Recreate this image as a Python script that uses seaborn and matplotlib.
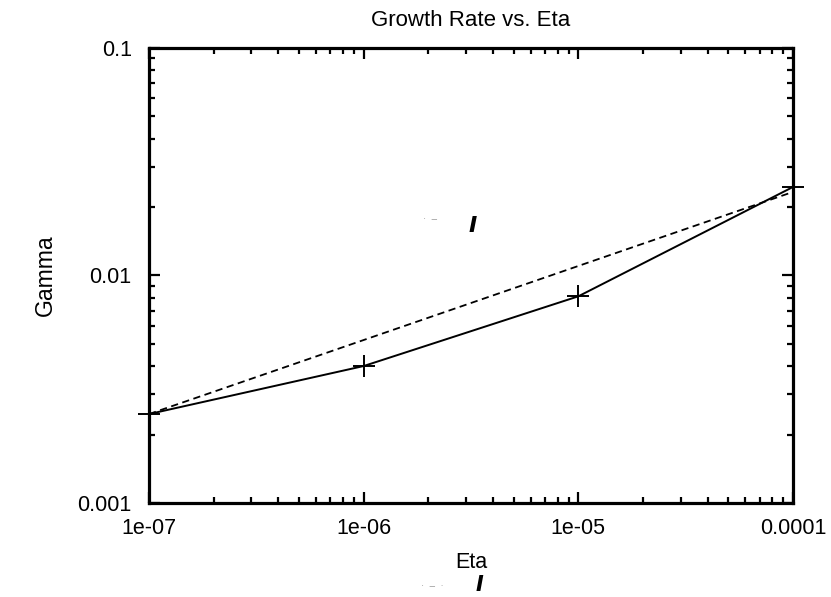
import matplotlib
matplotlib.use("Agg")
import matplotlib.pyplot as plt
import matplotlib.ticker as mticker
import seaborn as sns
import pandas as pd

eta = [1e-7, 1e-6, 1e-5, 1e-4]
gamma = [0.00246, 0.0040, 0.0081, 0.0245]
fit_eta = [1e-7, 1e-4]
fit_gamma = [0.00246, 0.0233]

x_ticks = [1e-7, 1e-6, 1e-5, 1e-4]
x_labels = ["1e-07", "1e-06", "1e-05", "0.0001"]
y_ticks = [0.001, 0.01, 0.1]
y_labels = ["0.001", "0.01", "0.1"]

sns.set_style("ticks")
plt.rcParams['font.family'] = ['Liberation Sans', 'DejaVu Sans']
for k in ["text.color", "axes.labelcolor", "xtick.color", "ytick.color", "axes.edgecolor"]:
    plt.rcParams[k] = "black"

fig = plt.figure(figsize=(8.31, 5.97), dpi=100)
ax = fig.add_axes([149/831, 1-503/597, (793-149)/831, (503-48)/597])

df = pd.DataFrame({"eta": eta, "gamma": gamma})
dff = pd.DataFrame({"eta": fit_eta, "gamma": fit_gamma})
sns.lineplot(data=df, x="eta", y="gamma", ax=ax, color="black", lw=1.4,
             marker="+", markersize=16, mew=1.4, mec="black", mfc="black",
             clip_on=False, zorder=5)
sns.lineplot(data=dff, x="eta", y="gamma", ax=ax, color="black", lw=1.3,
             linestyle=(0, (4, 2.5)), clip_on=False, zorder=4)

ax.set_xscale("log")
ax.set_yscale("log")
ax.set_xlim(1e-7, 1e-4)
ax.set_ylim(1e-3, 1e-1)
ax.set_xticks(x_ticks)
ax.set_xticklabels(x_labels)
ax.set_yticks(y_ticks)
ax.set_yticklabels(y_labels)
ax.xaxis.set_minor_locator(mticker.LogLocator(base=10, subs=range(2, 10)))
ax.yaxis.set_minor_locator(mticker.LogLocator(base=10, subs=range(2, 10)))
ax.xaxis.set_minor_formatter(mticker.NullFormatter())
ax.yaxis.set_minor_formatter(mticker.NullFormatter())

for s in ax.spines.values():
    s.set_linewidth(2.3)
    s.set_visible(True)
    s.set_color("black")
ax.tick_params(which="major", direction="in", length=8, width=1.6,
               top=True, right=True, labelsize=15.5, colors="black")
ax.tick_params(which="minor", direction="in", length=4, width=1.6,
               top=True, right=True, colors="black")
ax.tick_params(axis="x", which="major", pad=11)
ax.tick_params(axis="y", which="major", pad=12.5)

ax.set_xlabel("Eta", fontsize=15.5, labelpad=9)
ax.set_ylabel("Gamma", fontsize=16.5, labelpad=15)
ax.set_title("Growth Rate vs. Eta", fontsize=16, pad=16)

# stray glyph marks present in the reference
fig.text(473/831, 1-226/597, "I", fontsize=16, fontweight="bold", fontstyle="italic",
         family="DejaVu Sans", ha="center", va="center")
fig.text(479/831, 1-585/597, "I", fontsize=15, fontweight="bold", fontstyle="italic",
         family="DejaVu Sans", ha="center", va="center")
fig.text(430/831, 1-219/597, "·  –", fontsize=7, color="#999999", ha="center", va="center")
fig.text(432/831, 1-586/597, "·  –  ·", fontsize=7, color="#999999", ha="center", va="center")

fig.savefig("out.png", dpi=100)
